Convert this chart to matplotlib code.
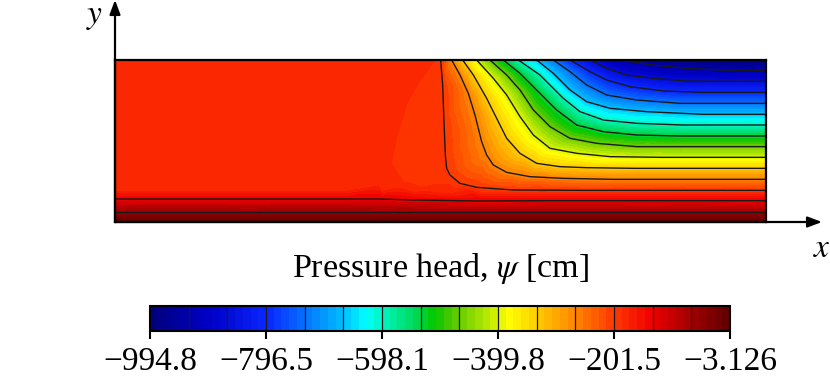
import matplotlib
matplotlib.use("Agg")
import matplotlib.pyplot as plt
import matplotlib.tri as mtri
import numpy as np
from matplotlib.colors import LinearSegmentedColormap

plt.rcParams["font.family"] = ["Liberation Serif", "DejaVu Serif"]
plt.rcParams["mathtext.fontset"] = "stix"

W, H = 830, 382
DOM_W, DOM_H = 1953, 486   # domain size, arbitrary units

PSI_MIN, PSI_MAX = -994.8, -3.126
TICK_VALUES = [-994.8, -796.5, -598.1, -399.8, -201.5, -3.126]
TICK_LABELS = ["\u2212994.8", "\u2212796.5", "\u2212598.1", "\u2212399.8", "\u2212201.5", "\u22123.126"]

# isolines, top to bottom
LINE_LEVELS = [-928.7, -862.6, -796.5, -730.4, -664.3, -598.1, -532.0, -465.9,
               -399.8, -333.7, -267.6, -201.5, -135.3, -69.2]
L1_X = [1515, 1615, 1715, 1815, 1953]
L1_Y = [486, 471, 461, 456, 454]
L2_X = [1425, 1475, 1535, 1615, 1715, 1830, 1953]
L2_Y = [486, 461, 441, 431, 423, 422, 422]
L3_X = [1365, 1425, 1475, 1545, 1645, 1765, 1860, 1953]
L3_Y = [486, 451, 426, 406, 393, 389, 389, 389]
L4_X = [1315, 1365, 1415, 1475, 1565, 1695, 1825, 1953]
L4_Y = [486, 451, 411, 381, 366, 356, 356, 356]
L5_X = [1265, 1315, 1365, 1415, 1485, 1595, 1765, 1860, 1953]
L5_Y = [486, 446, 396, 361, 341, 331, 323, 323, 323]
L6_X = [1210, 1275, 1345, 1395, 1465, 1565, 1705, 1830, 1953]
L6_Y = [486, 441, 371, 331, 306, 296, 291, 291, 291]
L7_X = [1165, 1215, 1275, 1325, 1385, 1465, 1565, 1695, 1825, 1953]
L7_Y = [486, 446, 386, 336, 291, 271, 261, 258, 258, 258]
L8_X = [1125, 1175, 1215, 1255, 1305, 1365, 1445, 1565, 1695, 1825, 1953]
L8_Y = [486, 441, 396, 336, 286, 251, 236, 226, 226, 226, 226]
L9_X = [1085, 1135, 1175, 1215, 1255, 1305, 1385, 1485, 1640, 1800, 1953]
L9_Y = [486, 431, 381, 316, 261, 221, 206, 196, 194, 194, 194]
L10_X = [1043, 1075, 1115, 1145, 1175, 1215, 1265, 1335, 1415, 1560, 1700, 1830, 1953]
L10_Y = [486, 441, 371, 311, 251, 206, 176, 166, 163, 161, 161, 161, 161]
L11_X = [1010, 1035, 1060, 1080, 1100, 1115, 1135, 1175, 1245, 1345, 1495, 1650, 1800, 1953]
L11_Y = [486, 441, 386, 321, 241, 201, 171, 149, 136, 131, 128, 128, 128, 128]
L12_X = [977, 983, 987, 991, 995, 1005, 1035, 1085, 1195, 1400, 1595, 1780, 1953]
L12_Y = [486, 411, 301, 201, 161, 141, 116, 104, 96, 95, 95, 95, 95]
L13_X = [0, 100, 200, 300, 400, 500, 600, 700, 800, 895, 1095, 1300, 1500, 1700, 1953]
L13_Y = [69, 69, 69, 69, 69, 69, 69, 69, 69, 66, 63, 64, 64, 64, 64]
L14_X = [0, 400, 795, 1200, 1600, 1953]
L14_Y = [31, 31, 31, 31, 31, 31]

# unlabelled shade edges in the red part, no line drawn on them
PATCH_LEVEL = -188.2
PATCH_X = [960, 915, 875, 845, 828, 835, 865, 925, 1100, 1300, 1500, 1700, 1953]
PATCH_Y = [486, 426, 356, 256, 176, 144, 121, 104, 89, 89, 89, 89, 89]
LOWER_LEVEL = -175.1
LOWER_X = [0, 100, 200, 300, 400, 500, 600, 700, 800, 900, 1000, 1300, 1600, 1953]
LOWER_Y = [93, 93, 93, 93, 93, 93, 93, 93, 92, 88, 84, 83, 83, 83]

# nearly uniform wet area on the left
PLATEAU_X = [0, 0, 0, 400, 400, 400, 700, 700, 700, 790, 850, 930]
PLATEAU_Y = [486, 300, 120, 486, 300, 120, 486, 300, 120, 112, 106, 97]
PLATEAU_PSI = -182.0

# boundary points
EDGE_X = [0, 400, 795, 1200, 1600, 1953, 1700, 1953]
EDGE_Y = [0, 0, 0, 0, 0, 0, 486, 486]
EDGE_PSI = [-3.126, -3.126, -3.126, -3.126, -3.126, -3.126, -985.0, -994.8]

CMAP_POS = [0.0, 0.1, 0.2, 0.33, 0.37, 0.4, 0.45, 0.49, 0.52, 0.58, 0.62, 0.73, 0.8, 0.87, 0.93, 1.0]
CMAP_COLORS = ["#00007f", "#0000c8", "#0a28ff", "#00beff", "#00ffff", "#00f5c0", "#00dc64",
               "#00c800", "#50c800", "#b4e600", "#ffff00", "#ff8c00", "#ff3c00", "#f00000", "#aa0000", "#640000"]

lines = [(L1_X, L1_Y), (L2_X, L2_Y), (L3_X, L3_Y), (L4_X, L4_Y), (L5_X, L5_Y), (L6_X, L6_Y), (L7_X, L7_Y),
         (L8_X, L8_Y), (L9_X, L9_Y), (L10_X, L10_Y), (L11_X, L11_Y), (L12_X, L12_Y), (L13_X, L13_Y), (L14_X, L14_Y)]

xs, ys, zs = [], [], []
for (lx, ly), lev in zip(lines, LINE_LEVELS):
    xs += lx; ys += ly; zs += [lev] * len(lx)
xs += PATCH_X; ys += PATCH_Y; zs += [PATCH_LEVEL] * len(PATCH_X)
xs += LOWER_X; ys += LOWER_Y; zs += [LOWER_LEVEL] * len(LOWER_X)
xs += PLATEAU_X; ys += PLATEAU_Y; zs += [PLATEAU_PSI] * len(PLATEAU_X)
xs += EDGE_X; ys += EDGE_Y; zs += EDGE_PSI

cmap = LinearSegmentedColormap.from_list("psi", list(zip(CMAP_POS, CMAP_COLORS)), N=75)
levels = np.linspace(PSI_MIN, PSI_MAX, 76)

fig = plt.figure(figsize=(W / 100, H / 100), dpi=100)
ax = fig.add_axes([115 / W, 1 - 222 / H, 651 / W, 162 / H])
tri = mtri.Triangulation(xs, ys)
cf = ax.tricontourf(tri, zs, levels=levels, cmap=cmap, vmin=PSI_MIN, vmax=PSI_MAX)
for lx, ly in lines:
    ax.plot(lx, ly, color="#1a1a1a", lw=1.0, solid_joinstyle="round")
ax.set_xlim(0, DOM_W)
ax.set_ylim(0, DOM_H)
ax.set_xticks([]); ax.set_yticks([])
for s in ax.spines.values():
    s.set_linewidth(1.6)

# axis arrows
arrow = dict(arrowstyle="-|>,head_width=0.32,head_length=0.85", color="black", lw=1.6, shrinkA=0, shrinkB=0)
ax.annotate("", xy=(2121, 0), xytext=(0, 0), arrowprops=arrow, annotation_clip=False)
ax.annotate("", xy=(0, 666), xytext=(0, 0), arrowprops=arrow, annotation_clip=False)
fig.text(95 / W, 1 - 17 / H, r"$y$", fontsize=24, ha="center", va="center")
fig.text(822 / W, 1 - 249 / H, r"$x$", fontsize=24, ha="center", va="center")
fig.text(440.5 / W, 1 - 268 / H, r"Pressure head, $\psi$ [cm]", fontsize=24.5, ha="center", va="center")

cax = fig.add_axes([150 / W, 1 - 331 / H, 580 / W, 25 / H])
cbar = fig.colorbar(cf, cax=cax, orientation="horizontal", ticks=TICK_VALUES)
cbar.ax.set_xticklabels(TICK_LABELS, fontsize=24)
cbar.ax.tick_params(length=6, width=1.5, pad=5)
cbar.ax.vlines(LINE_LEVELS, 0, 1, color="#1a1a1a", lw=0.9, transform=cbar.ax.get_xaxis_transform())
cbar.outline.set_linewidth(1.5)

fig.savefig("out.png", dpi=100)
